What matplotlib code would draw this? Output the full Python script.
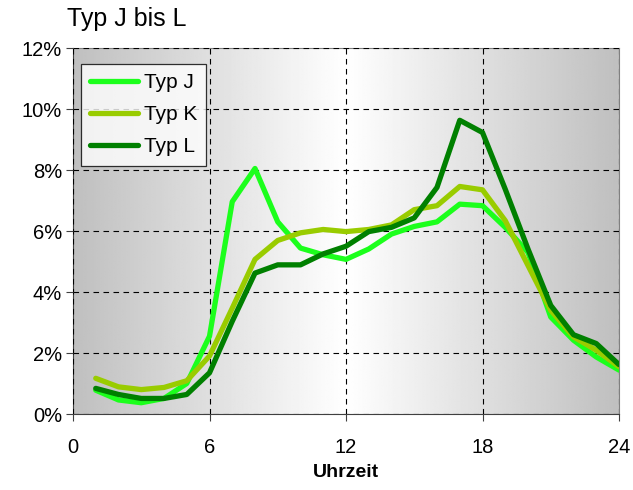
import numpy as np
import matplotlib
matplotlib.use("Agg")
import matplotlib.pyplot as plt
from matplotlib.ticker import FuncFormatter

plt.rcParams['font.family'] = ['Liberation Sans', 'DejaVu Sans']

hours = list(range(1, 25))
typ_j = [0.78, 0.46, 0.37, 0.51, 1.00, 2.55, 6.96, 8.05, 6.30, 5.44, 5.22, 5.07,
         5.41, 5.90, 6.15, 6.30, 6.88, 6.83, 6.12, 5.30, 3.18, 2.42, 1.87, 1.44]
typ_k = [1.17, 0.89, 0.80, 0.87, 1.09, 1.90, 3.47, 5.07, 5.69, 5.94, 6.05, 5.98,
         6.05, 6.20, 6.70, 6.83, 7.46, 7.35, 6.34, 4.87, 3.40, 2.53, 2.09, 1.55]
typ_l = [0.84, 0.64, 0.51, 0.51, 0.64, 1.35, 3.04, 4.62, 4.89, 4.89, 5.25, 5.50,
         5.98, 6.12, 6.43, 7.43, 9.63, 9.23, 7.37, 5.41, 3.56, 2.60, 2.31, 1.62]
series_names = ["Typ J", "Typ K", "Typ L"]
colors = ["#1cff1c", "#99cc00", "#008000"]
x_ticks = [0, 6, 12, 18, 24]
y_ticks = [0, 2, 4, 6, 8, 10, 12]

fig = plt.figure(figsize=(6.33, 4.90), dpi=100)
ax = fig.add_axes([73/633, 1-414/490, (619-73)/633, (414-48)/490])

# gradient background
xs = np.linspace(0, 1, 400)
g = 1 - 0.25 * np.abs(xs - 0.5) * 2
img = np.tile(g, (2, 1))
ax.imshow(img, extent=[0, 24, 0, 12], aspect='auto', cmap='gray', vmin=0, vmax=1,
          zorder=0, interpolation='bilinear')

for vals, name, c in zip([typ_j, typ_k, typ_l], series_names, colors):
    ax.plot(hours, vals, color=c, lw=3.8, label=name, zorder=3,
            solid_capstyle='round', solid_joinstyle='round')

ax.set_xlim(0, 24)
ax.set_ylim(0, 12)
ax.set_xticks(x_ticks)
ax.set_yticks(y_ticks)
ax.yaxis.set_major_formatter(FuncFormatter(lambda v, p: f"{int(v)}%"))
ax.grid(True, color='black', linestyle=(0, (5, 4)), linewidth=0.8, zorder=1)
ax.set_axisbelow(False)
for s in ['top', 'right']:
    ax.spines[s].set_color('#808080')
for s in ['left', 'bottom']:
    ax.spines[s].set_color('#404040')
ax.tick_params(axis='both', direction='out', length=5, width=0.8, colors='#404040',
               labelcolor='black', labelsize=14.5)
ax.tick_params(axis='y', pad=3)
ax.tick_params(axis='x', pad=12)
ax.set_xlabel("Uhrzeit", fontsize=14, fontweight='bold', labelpad=5)

fig.text(67/633, 1-19/490, "Typ J bis L", fontsize=18, va='center', ha='left')

leg = ax.legend(loc='upper left', bbox_to_anchor=(8/546, 1-16/366), frameon=True,
                fancybox=False, edgecolor='black', fontsize=15, handlelength=2.3,
                borderpad=0.45, labelspacing=0.62, handletextpad=0.25, borderaxespad=0)
leg.get_frame().set_linewidth(0.9)
leg.get_frame().set_facecolor('white')

fig.savefig("out.png", dpi=100)
